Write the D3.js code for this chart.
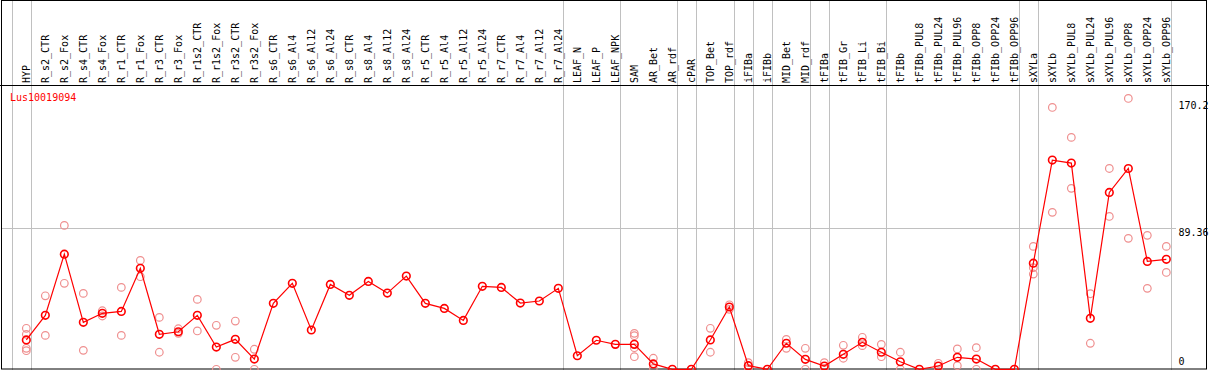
<!DOCTYPE html>
<html>
<head>
<meta charset="utf-8">
<script src="https://cdn.jsdelivr.net/npm/d3@7"></script>
<style>
  body { margin: 0; background: #fff; }
  svg text { font-family: "DejaVu Sans Mono", monospace; font-size: 10px; }
</style>
</head>
<body>
<svg width="1209" height="370"></svg>
<script>
/* sample names, one column each */
var samples = ["HYP", "R_s2_CTR", "R_s2_Fox", "R_s4_CTR", "R_s4_Fox", "R_r1_CTR", "R_r1_Fox",
  "R_r3_CTR", "R_r3_Fox", "R_r1s2_CTR", "R_r1s2_Fox", "R_r3s2_CTR", "R_r3s2_Fox",
  "R_s6_CTR", "R_s6_Al4", "R_s6_Al12", "R_s6_Al24", "R_s8_CTR", "R_s8_Al4", "R_s8_Al12", "R_s8_Al24",
  "R_r5_CTR", "R_r5_Al4", "R_r5_Al12", "R_r5_Al24", "R_r7_CTR", "R_r7_Al4", "R_r7_Al12", "R_r7_Al24",
  "LEAF_N", "LEAF_P", "LEAF_NPK", "SAM", "AR_Bet", "AR_rdf", "cPAR", "TOP_Bet", "TOP_rdf",
  "iFIBa", "iFIBb", "MID_Bet", "MID_rdf", "tFIBa", "tFIB_Gr", "tFIB_Li", "tFIB_Bi",
  "tFIBb", "tFIBb_PUL8", "tFIBb_PUL24", "tFIBb_PUL96", "tFIBb_OPP8", "tFIBb_OPP24", "tFIBb_OPP96",
  "sXYLa", "sXYLb", "sXYLb_PUL8", "sXYLb_PUL24", "sXYLb_PUL96", "sXYLb_OPP8", "sXYLb_OPP24", "sXYLb_OPP96"];

/* mean expression per sample */
var means = [18.6, 34.2, 73, 29.8, 35.5, 36.7, 64, 22.2, 23.8, 34.2, 14.1, 19, 6.5,
  41.8, 54.5, 24.9, 53.8, 46.9, 55.7, 48.3, 59.1, 41.8, 38.6, 31, 52.6, 51.9, 42, 43.3, 51.3,
  8.6, 18.4, 15.8, 15.8, 3.4, 0, 0, 18.6, 39.5, 2.3, 0, 16.5, 6.3, 2.1, 9.5, 17.1, 10.8,
  4.8, 0, 2.1, 7.6, 6.5, 0, 0,
  67.3, 132.6, 130.7, 32.3, 112.1, 127.3, 68.4, 69.7];

/* replicate values, per sample (empty where none are shown) */
var replicates = [[26, 22.2, 13.3, 11.8], [46.6, 21.5], [91.2, 54.5], [48.1, 12], [37.1, 33.8],
  [51.9, 21.5], [69, 58.7], [32.9, 10.8], [25.7, 22.8], [44.3, 24.3], [27.9, 0], [30.6, 7.6], [12.7, 0],
  [], [], [], [], [], [], [], [], [], [], [], [], [], [], [], [],
  [], [], [], [22.8, 21.3, 13.7, 8], [7, 0.6], [], [], [26, 10.8], [40.9, 38],
  [4.2, 0.6], [], [19, 13.3], [13.3, 0], [4.2, 0.6], [15.2, 7], [20.3, 15], [15.8, 8],
  [10.8, 0], [], [3.8, 0], [12.9, 2.3], [13.7, 0], [], [],
  [77.9, 64.4, 60.4], [166, 99.5], [147, 114.7], [47.9, 16.5], [127.3, 96.9], [171.7, 83],
  [84.9, 51.3], [77.9, 61.4]];

/* last sample of each group, a grey rule follows it */
var groupEnds = ["HYP", "R_r7_Al24", "LEAF_NPK", "AR_rdf", "cPAR", "TOP_rdf", "iFIBa", "iFIBb",
  "MID_rdf", "tFIBa", "tFIB_Bi", "tFIBb_OPP96", "sXYLa", "sXYLb_OPP96"];

var yTicks = [0, 89.36, 170.2];
var geneId = "Lus10019094";

var svg = d3.select("svg"),
    W = 1209, H = 370,
    headerY = 85;

var x = d3.scaleBand().domain(samples).range([11.7, 1170.7]).padding(0),
    y = d3.scaleLinear().domain([0, 170.2]).range([369.3, 100.8]);

function px(d) { return x(d) + x.bandwidth() * 0.77; }

/* grey group rules, full height */
var rules = [x.range()[0]].concat(groupEnds.map(function(d) { return x(d) + x.bandwidth(); }));
svg.selectAll(".rule").data(rules).enter().append("line")
    .attr("class", "rule")
    .attr("x1", function(d) { return Math.round(d) + 0.5; })
    .attr("x2", function(d) { return Math.round(d) + 0.5; })
    .attr("y1", 0).attr("y2", H)
    .attr("stroke", "#c0c0c0").attr("stroke-width", 1);

/* horizontal grid line at middle tick */
svg.append("line")
    .attr("x1", 1).attr("x2", 1176)
    .attr("y1", Math.round(y(yTicks[1])) + 0.5).attr("y2", Math.round(y(yTicks[1])) + 0.5)
    .attr("stroke", "#c0c0c0");

/* frame and header separator */
svg.append("rect")
    .attr("x", 1.5).attr("y", 0.5).attr("width", 1205).attr("height", 368.5)
    .attr("fill", "none").attr("stroke", "#000");
svg.append("line")
    .attr("x1", 0).attr("x2", W).attr("y1", headerY + 0.5).attr("y2", headerY + 0.5)
    .attr("stroke", "#000");

/* column labels, rotated */
svg.selectAll(".lab").data(samples).enter().append("text")
    .attr("class", "lab")
    .attr("transform", function(d) { return "translate(" + (px(d) + 3.6) + "," + (headerY - 2) + ") rotate(-90)"; })
    .attr("fill", "#000")
    .text(function(d) { return d; });

/* gene id */
svg.append("text").attr("x", 10).attr("y", 101).attr("fill", "#f00").text(geneId);

/* value labels on the right */
svg.selectAll(".ytick").data(yTicks).enter().append("text")
    .attr("class", "ytick")
    .attr("x", 1178.5)
    .attr("y", function(d) { return d === 0 ? 365 : y(d) + 8; })
    .attr("fill", "#000")
    .text(function(d) { return d; });

/* replicate circles */
var reps = [];
samples.forEach(function(s, i) {
  replicates[i].forEach(function(v) { reps.push({s: s, v: v}); });
});
svg.selectAll(".rep").data(reps).enter().append("circle")
    .attr("class", "rep")
    .attr("cx", function(d) { return px(d.s); })
    .attr("cy", function(d) { return y(d.v); })
    .attr("r", 3.8)
    .attr("fill", "none").attr("stroke", "#ef8f8f").attr("stroke-width", 1.2);

/* mean line and points */
var meanData = samples.map(function(s, i) { return {s: s, v: means[i]}; });
svg.append("path").datum(meanData)
    .attr("fill", "none").attr("stroke", "#f00").attr("stroke-width", 1.2)
    .attr("d", d3.line().x(function(d) { return px(d.s); }).y(function(d) { return y(d.v); }));
svg.selectAll(".mean").data(meanData).enter().append("circle")
    .attr("class", "mean")
    .attr("cx", function(d) { return px(d.s); })
    .attr("cy", function(d) { return y(d.v); })
    .attr("r", 3.8)
    .attr("fill", "none").attr("stroke", "#f00").attr("stroke-width", 1.6);
</script>
</body>
</html>
